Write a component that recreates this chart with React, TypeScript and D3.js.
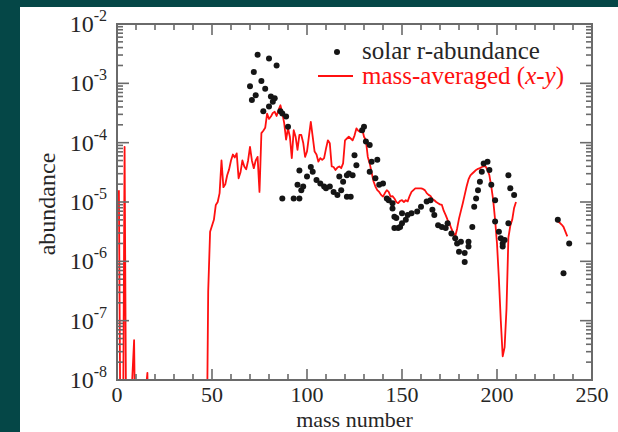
import React, { useRef, useEffect } from 'react';
import * as d3 from 'd3';

// solar r-process abundances (black dots): mass number, log10(abundance)
const solarMass = [70, 71, 72, 73, 74, 76, 77, 78, 80, 80, 81, 82, 83, 84, 86, 87, 89, 90,
  87, 93, 96, 95, 97, 98, 96, 100, 102, 103, 105, 107, 109, 110, 112, 114, 116, 117, 118, 119,
  121, 121, 122, 123, 124, 125, 126,
  129, 130, 131, 133, 134, 133, 136, 137, 138, 140, 142, 143, 145, 145, 146, 147, 146, 148, 149,
  150, 150, 152, 153, 155, 158, 160, 163, 165, 166, 167, 169, 171, 173, 174, 176, 178, 179, 180,
  181, 183, 183, 185, 185, 187, 188, 189, 190, 191, 192, 193, 195, 196, 197, 199, 199, 201, 202,
  203, 203, 204, 206, 206, 207, 209,
  232, 235, 238];
const solarLog = [-3.05, -3.28, -2.81, -3.2, -2.52, -2.96, -3.47, -3.09, -3.39, -2.58, -3.22, -3.31, -3.25, -2.7, -3.47, -3.51, -3.56, -3.73,
  -4.94, -4.94, -4.94, -4.71, -4.8, -4.74, -4.47, -4.57, -4.41, -4.49, -4.63, -4.69, -4.74, -4.77, -4.74, -4.83, -4.88, -4.57, -4.8, -4.66,
  -4.91, -4.55, -4.52, -4.91, -4.55, -4.21, -4.38,
  -3.79, -3.73, -3.98, -4.04, -4.32, -4.49, -4.6, -4.29, -4.71, -4.69, -4.94, -4.97, -5.02, -5.11, -5.25, -5.27, -5.44, -5.44, -5.42,
  -5.19, -5.36, -5.3, -5.22, -5.19, -5.16, -5.08, -4.99, -4.97, -5.13, -5.22, -5.39, -5.42, -5.44, -5.36, -5.53, -5.61, -5.7, -5.84,
  -5.67, -5.86, -6.01, -5.67, -5.75, -5.42, -5.08, -4.94, -4.8, -4.66, -4.49, -4.35, -4.32, -4.46, -4.71, -4.97, -5.33, -5.5, -5.61,
  -5.7, -5.75, -5.64, -5.36, -4.55, -4.77, -4.88,
  -5.3, -6.2, -5.7];

// mass-averaged (x-y) curve: mass number, log10(abundance); null = no value
const avgMass = [1, 2, 3, 4, 5, 9, 10, 16, 17, 47,
  48, 49, 50, 51, 52, 53, 54, 55, 56, 57, 58, 59, 60, 61, 62, 63, 64, 65, 66, 67, 68, 69,
  70, 71, 72, 73, 74, 75, 76, 77, 78, 79, 80, 81, 82, 83, 84, 85, 86, 87, 88, 89,
  90, 91, 92, 93, 94, 95, 96, 97, 98, 99, 100, 101, 102, 103, 104, 105, 106, 107, 108, 109,
  110, 111, 112, 113, 114, 115, 116, 117, 118, 119, 120, 121, 122, 123, 124, 125, 126, 127, 128, 129,
  130, 131, 132, 133, 134, 135, 136, 137, 138, 139, 140, 141, 142, 143, 144, 145, 146, 147, 148, 149,
  150, 151, 152, 153, 154, 155, 156, 157, 158, 159, 160, 161, 162, 163, 164, 165, 166, 167, 168, 169,
  170, 171, 172, 173, 174, 175, 176, 177, 178, 179, 180, 181, 182, 183, 184, 185, 186, 187, 188, 189,
  190, 191, 192, 193, 194, 195, 196, 197, 198, 199, 200, 201, 202, 203, 204, 205, 206, 207, 208, 209,
  210, 220, 232, 233, 234, 235, 236, 237];
const avgLog = [-4.8, -10, -10, -4.07, -10, -7.33, -10, -7.88, -10, -10,
  -6.5, -5.5, -5.4, -5.3, -5.05, -5.0, -4.85, -4.3, -4.75, -4.7, -4.55, -4.45, -4.3, -4.2, -4.25, -4.18, -4.6, -4.5, -4.3, -4.4, -4.45, -4.3,
  -4.07, -4.3, -4.43, -4.3, -4.24, -4.83, -3.84, -3.8, -3.75, -3.51, -3.6, -3.56, -3.5, -3.48, -3.55, -3.45, -3.37, -3.5, -3.67, -3.95,
  -3.76, -3.9, -4.26, -3.79, -3.9, -4.12, -3.87, -3.87, -4.0, -4.24, -4.15, -3.9, -3.65, -3.9, -4.15, -4.2, -4.32, -4.26, -4.29, -4.26,
  -4.1, -3.96, -4.01, -4.4, -4.41, -4.46, -4.42, -4.4, -4.43, -4.35, -3.96, -3.93, -3.9, -3.93, -3.96, -3.88, -3.76, -3.8, -3.82, -3.76,
  -3.9, -3.96, -4.24, -4.35, -4.5, -4.65, -4.74, -4.8, -4.83, -4.88, -4.91, -4.85, -4.8, -4.83, -4.91, -4.9, -4.94, -5.0, -5.02, -4.98,
  -4.97, -5.0, -4.97, -4.99, -4.9, -4.83, -4.8, -4.77, -4.77, -4.77, -4.77, -4.78, -4.8, -4.85, -4.88, -4.9, -4.95, -4.97, -5.0, -5.02,
  -5.04, -5.05, -5.15, -5.22, -5.3, -5.36, -5.45, -5.52, -5.58, -5.45, -5.28, -5.15, -5.02, -4.88, -4.74, -4.62, -4.55, -4.52, -4.49, -4.46,
  -4.44, -4.43, -4.41, -4.4, -4.4, -4.46, -4.55, -4.74, -4.97, -5.3, -5.7, -6.3, -7.0, -7.6, -7.45, -6.8, -5.6, -5.4, -5.3, -5.1,
  -5.0, null, -5.33, -5.35, -5.38, -5.42, -5.5, -5.58];

const xTicks = [0, 50, 100, 150, 200, 250];
const yExponents = [-2, -3, -4, -5, -6, -7, -8];

const App = () => {
  const chartRef = useRef<HTMLDivElement>(null);

  useEffect(() => {
    const width = 618;
    const height = 432;
    const left = 117, right = 592, top = 24, bottom = 380;
    const font = '"Liberation Serif", "DejaVu Serif", serif';
    const textColor = '#262626';
    const red = '#ff1010';

    d3.select(chartRef.current).select('svg').remove();

    const svg = d3.select(chartRef.current)
      .append('svg')
      .attr('width', width)
      .attr('height', height)
      .style('position', 'fixed')
      .style('left', 0)
      .style('top', 0);

    // dark frame around white page
    svg.append('rect').attr('width', width).attr('height', height).attr('fill', '#054747');
    svg.append('rect').attr('x', 20).attr('y', 7).attr('width', width - 20).attr('height', height - 7).attr('fill', '#fff');

    const x = d3.scaleLinear().domain([0, 250]).range([left, right]);
    const y = d3.scaleLog().domain([1e-8, 1e-2]).range([bottom, top]);

    svg.append('clipPath').attr('id', 'plot-clip')
      .append('rect').attr('x', left).attr('y', top).attr('width', right - left).attr('height', bottom - top);

    // red curve
    const avgData = avgMass.map((m, i) => ({ m, v: avgLog[i] }));
    const line = d3.line<{ m: number; v: number | null }>()
      .defined(d => d.v !== null)
      .x(d => x(d.m))
      .y(d => y(Math.pow(10, d.v as number)));

    svg.append('path')
      .datum(avgData)
      .attr('clip-path', 'url(#plot-clip)')
      .attr('d', line)
      .attr('fill', 'none')
      .attr('stroke', red)
      .attr('stroke-width', 1.8)
      .attr('stroke-linejoin', 'round');

    // black dots
    svg.append('g')
      .selectAll('circle')
      .data(solarMass.map((m, i) => ({ m, v: solarLog[i] })))
      .enter().append('circle')
      .attr('cx', d => x(d.m))
      .attr('cy', d => y(Math.pow(10, d.v)))
      .attr('r', 3)
      .attr('fill', '#151515');

    // frame and ticks
    const axisColor = '#6a6a6a';
    const tg = svg.append('g').attr('stroke', axisColor).attr('stroke-width', 1.6);
    d3.range(0, 251, 10).forEach(t => {
      const len = t % 50 === 0 ? 11 : 6;
      tg.append('line').attr('x1', x(t)).attr('x2', x(t)).attr('y1', bottom).attr('y2', bottom - len);
      tg.append('line').attr('x1', x(t)).attr('x2', x(t)).attr('y1', top).attr('y2', top + len);
    });
    const yMinor: number[] = [];
    d3.range(-8, -2).forEach(e => d3.range(2, 10).forEach(k => yMinor.push(k * Math.pow(10, e))));
    yMinor.forEach(v => {
      tg.append('line').attr('x1', left).attr('x2', left + 6).attr('y1', y(v)).attr('y2', y(v));
      tg.append('line').attr('x1', right).attr('x2', right - 6).attr('y1', y(v)).attr('y2', y(v));
    });
    yExponents.forEach(e => {
      const v = Math.pow(10, e);
      tg.append('line').attr('x1', left).attr('x2', left + 12).attr('y1', y(v)).attr('y2', y(v));
      tg.append('line').attr('x1', right).attr('x2', right - 12).attr('y1', y(v)).attr('y2', y(v));
    });
    svg.append('rect')
      .attr('x', left).attr('y', top).attr('width', right - left).attr('height', bottom - top)
      .attr('fill', 'none').attr('stroke', axisColor).attr('stroke-width', 2);

    // tick labels
    svg.append('g')
      .selectAll('text')
      .data(xTicks)
      .enter().append('text')
      .attr('x', d => x(d))
      .attr('y', 402)
      .attr('text-anchor', 'middle')
      .attr('font-family', font)
      .attr('font-size', 22)
      .attr('fill', textColor)
      .text(d => d);

    const yl = svg.append('g')
      .selectAll('text')
      .data(yExponents)
      .enter().append('text')
      .attr('x', 107)
      .attr('y', d => y(Math.pow(10, d)) + 8)
      .attr('text-anchor', 'end')
      .attr('font-family', font)
      .attr('font-size', 24)
      .attr('fill', textColor);
    yl.append('tspan').text('10');
    yl.append('tspan').attr('dy', -11).attr('font-size', 16).text(d => `${d}`);

    // axis titles
    svg.append('text')
      .attr('x', (left + right) / 2)
      .attr('y', 427)
      .attr('text-anchor', 'middle')
      .attr('font-family', font)
      .attr('font-size', 22)
      .attr('fill', textColor)
      .text('mass number');

    svg.append('text')
      .attr('transform', `translate(55, ${(top + bottom) / 2 + 2}) rotate(-90)`)
      .attr('text-anchor', 'middle')
      .attr('font-family', font)
      .attr('font-size', 24)
      .attr('fill', textColor)
      .text('abundance');

    // legend
    svg.append('circle').attr('cx', 337).attr('cy', 52).attr('r', 3).attr('fill', '#151515');
    svg.append('text')
      .attr('x', 362).attr('y', 59)
      .attr('font-family', font).attr('font-size', 25).attr('fill', textColor)
      .text('solar r-abundance');
    svg.append('line')
      .attr('x1', 318).attr('x2', 353).attr('y1', 76).attr('y2', 76)
      .attr('stroke', red).attr('stroke-width', 2.2);
    const lt = svg.append('text')
      .attr('x', 362).attr('y', 84)
      .attr('font-family', font).attr('font-size', 25).attr('fill', red);
    lt.append('tspan').text('mass-averaged (');
    lt.append('tspan').attr('font-style', 'italic').text('x');
    lt.append('tspan').text('-');
    lt.append('tspan').attr('font-style', 'italic').text('y');
    lt.append('tspan').text(')');
  }, []);

  return <div ref={chartRef}></div>;
};

export default App;
